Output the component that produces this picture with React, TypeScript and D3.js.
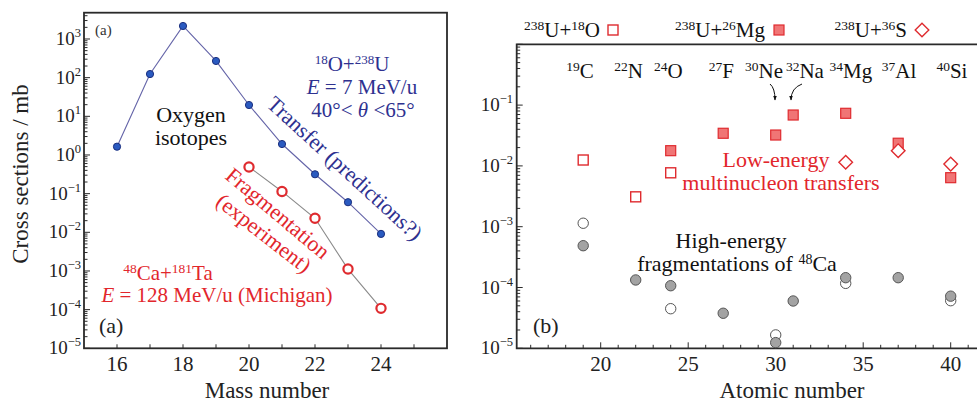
import React from 'react';
import * as d3 from 'd3';

// (a) oxygen isotopes: transfer predictions, 18O+238U at 7 MeV/u
const massNumbers = [16, 17, 18, 19, 20, 21, 22, 23, 24];
const transferPredicted = [1.64, 124, 2170, 270, 19.6, 1.92, 0.317, 0.06, 0.0091];

// (a) fragmentation measurement, 48Ca+181Ta at 128 MeV/u
const fragMassNumbers = [20, 21, 22, 23, 24];
const fragMeasured = [0.49, 0.114, 0.023, 0.00112, 0.000108];

// (b) low-energy multinucleon transfers
const uOxygenZ = [19, 22, 24];
const uOxygenSigma = [0.0125, 0.0031, 0.0077];
const uMagnesiumZ = [24, 27, 30, 31, 34, 37, 40];
const uMagnesiumSigma = [0.0178, 0.0344, 0.0322, 0.0687, 0.0733, 0.0236, 0.0064];
const uSulfurZ = [34, 37, 40];
const uSulfurSigma = [0.01146, 0.0178, 0.0107];

// (b) high-energy fragmentations of 48Ca
const fragFilledZ = [19, 22, 24, 27, 30, 31, 34, 37, 40];
const fragFilledSigma = [4.87e-4, 1.33e-4, 1.07e-4, 3.77e-5, 1.24e-5, 6.0e-5, 1.45e-4, 1.45e-4, 7.2e-5];
const fragOpenZ = [19, 24, 30, 34, 40];
const fragOpenSigma = [1.14e-3, 4.48e-5, 1.66e-5, 1.17e-4, 6.07e-5];

// tick labels
const leftXTicks = [16, 18, 20, 22, 24];
const leftYExponents = [3, 2, 1, 0, -1, -2, -3, -4, -5];
const rightXTicks = [20, 25, 30, 35, 40];
const rightYExponents = [-1, -2, -3, -4, -5];

// isotope names across the top of panel (b)
const isotopeMass = ['19', '22', '24', '27', '30', '32', '34', '37', '40'];
const isotopeElement = ['C', 'N', 'O', 'F', 'Ne', 'Na', 'Mg', 'Al', 'Si'];
const isotopeLabelZ = [18.82, 21.59, 23.87, 26.9, 29.33, 31.67, 34.3, 37.05, 40.07];

const FONT = 'Liberation Serif, serif';
const RED = '#e2262c';
const RED_MARK = '#df2b2f';
const RED_FILL = '#f07575';
const BLUE_TEXT = '#2e3190';
const AXIS = '#2a2a2a';

const xL = d3.scaleLinear().domain([15, 26]).range([84, 447]);
const yL = d3.scaleLog().domain([1e-5, Math.pow(10, 3.68)]).range([348.3, 12.7]);
const xR = d3.scaleLinear().domain([15.2, 42]).range([516.7, 985.7]);
const yR = d3.scaleLog().domain([1e-5, 1]).range([348.3, 44.3]);

function logTicks(scale: d3.ScaleLogarithmic<number, number>) {
  const [lo, hi] = scale.domain();
  const out: { v: number; major: boolean }[] = [];
  for (let k = Math.floor(Math.log10(lo)); k <= Math.ceil(Math.log10(hi)); k++) {
    for (let m = 1; m <= 9; m++) {
      const v = m * Math.pow(10, k);
      if (v >= lo * 0.999 && v <= hi * 1.001) out.push({ v, major: m === 1 });
    }
  }
  return out;
}

// every label goes through here so the serif face is set on the element itself
function T(props: any) {
  const { children, ...rest } = props;
  return (
    <text {...rest} style={{ fontFamily: FONT }}>
      {children}
    </text>
  );
}

function Pow10({ x, y, e }: { x: number; y: number; e: number }) {
  const exp = e < 0 ? '\u2212' + Math.abs(e) : String(e);
  return (
    <T x={x} y={y} textAnchor="end" fontSize={19} fill="#222">
      <tspan>10</tspan>
      <tspan fontSize={12.5} dy={-8}>{exp}</tspan>
    </T>
  );
}

export default function App() {
  const lineL = d3
    .line<number>()
    .x((_, i) => xL(massNumbers[i]))
    .y((d) => yL(d));
  const lineFrag = d3
    .line<number>()
    .x((_, i) => xL(fragMassNumbers[i]))
    .y((d) => yL(d));

  const yTicksL = logTicks(yL);
  const yTicksR = logTicks(yR);
  const xMinorL = d3.range(16, 26);
  const xMinorR = d3.range(16, 43);

  const sq = 10;
  const diamond = (cx: number, cy: number, r: number) =>
    `M${cx},${cy - r}L${cx + r},${cy}L${cx},${cy + r}L${cx - r},${cy}Z`;

  return (
    <svg width={977} height={403} style={{ position: 'absolute', left: 0, top: 0 }}>
      <defs>
        <marker id="arrowHead" viewBox="0 0 10 10" refX="9" refY="5" markerWidth="5" markerHeight="5" orient="auto">
          <path d="M0,1L10,5L0,9Z" fill="#111" />
        </marker>
      </defs>
      <rect x={0} y={0} width={977} height={403} fill="#fff" />

      {/* ---------- panel (a) ---------- */}
      {yTicksL.map((t, i) => (
        <line key={'ly' + i} x1={xL(15)} x2={xL(15) + (t.major ? 6 : 3.5)} y1={yL(t.v)} y2={yL(t.v)} stroke={AXIS} strokeWidth={1} />
      ))}
      {xMinorL.map((v) => (
        <line key={'lx' + v} x1={xL(v)} x2={xL(v)} y1={yL.range()[0]} y2={yL.range()[0] - 4} stroke={AXIS} strokeWidth={1} />
      ))}
      <rect x={xL(15)} y={yL.range()[1]} width={xL(26) - xL(15)} height={yL.range()[0] - yL.range()[1]} fill="none" stroke={AXIS} strokeWidth={1.8} />
      {leftYExponents.map((e) => (
        <Pow10 key={'lye' + e} x={81} y={yL(Math.pow(10, e)) + 6} e={e} />
      ))}
      {leftXTicks.map((v) => (
        <T key={'lxt' + v} x={xL(v)} y={371} textAnchor="middle" fontSize={21} fill="#222">{v}</T>
      ))}
      <T x={267} y={398} textAnchor="middle" fontSize={23} fill="#222">Mass number</T>
      <T transform="translate(28,174) rotate(-90)" textAnchor="middle" fontSize={23} fill="#222">Cross sections / mb</T>

      <path d={lineL(transferPredicted) || ''} fill="none" stroke="#6464a8" strokeWidth={1.1} />
      <path d={lineFrag(fragMeasured) || ''} fill="none" stroke="#8a8a8a" strokeWidth={1.1} />
      {transferPredicted.map((d, i) => (
        <circle key={'tp' + i} cx={xL(massNumbers[i])} cy={yL(d)} r={3.6} fill="#2a5ac0" stroke="#1b2f7e" strokeWidth={1} />
      ))}
      {fragMeasured.map((d, i) => (
        <circle key={'fm' + i} cx={xL(fragMassNumbers[i])} cy={yL(d)} r={4.6} fill="#fff" stroke={RED_MARK} strokeWidth={2.2} />
      ))}

      <T x={95} y={35} fontSize={15} fill="#333">(a)</T>
      <T x={99} y={333} fontSize={22} fill="#222">(a)</T>

      <T x={191} y={122} textAnchor="middle" fontSize={22} fill="#111">Oxygen</T>
      <T x={191} y={145} textAnchor="middle" fontSize={22} fill="#111">isotopes</T>

      <T x={352} y={71} textAnchor="middle" fontSize={21} fill={BLUE_TEXT}>
        <tspan fontSize={13} dy={-7}>18</tspan>
        <tspan dy={7}>O+</tspan>
        <tspan fontSize={13} dy={-7}>238</tspan>
        <tspan dy={7}>U</tspan>
      </T>
      <T x={362} y={94} textAnchor="middle" fontSize={21} fill={BLUE_TEXT}>
        <tspan fontStyle="italic">E</tspan> = 7 MeV/u
      </T>
      <T x={363} y={117} textAnchor="middle" fontSize={21} fill={BLUE_TEXT}>
        40°&lt; <tspan fontStyle="italic">θ</tspan> &lt;65°
      </T>
      <T transform="translate(345,168) rotate(42.5)" textAnchor="middle" dy="0.35em" fontSize={22} fill={BLUE_TEXT}>
        Transfer (predictions?)
      </T>

      <T transform="translate(278,213) rotate(40)" textAnchor="middle" dy="0.35em" fontSize={22} fill={RED}>
        Fragmentation
      </T>
      <T transform="translate(264,233) rotate(38)" textAnchor="middle" dy="0.35em" fontSize={22} fill={RED}>
        (experiment)
      </T>

      <T x={168} y={280} textAnchor="middle" fontSize={21} fill={RED}>
        <tspan fontSize={13.5} dy={-7}>48</tspan>
        <tspan dy={7}>Ca+</tspan>
        <tspan fontSize={13.5} dy={-7}>181</tspan>
        <tspan dy={7}>Ta</tspan>
      </T>
      <T x={217} y={302} textAnchor="middle" fontSize={21} fill={RED}>
        <tspan fontStyle="italic">E</tspan> = 128 MeV/u (Michigan)
      </T>

      {/* ---------- panel (b) ---------- */}
      {yTicksR.map((t, i) => (
        <line key={'ry' + i} x1={xR(15.2)} x2={xR(15.2) + (t.major ? 6 : 3.5)} y1={yR(t.v)} y2={yR(t.v)} stroke={AXIS} strokeWidth={1} />
      ))}
      {xMinorR.map((v) => (
        <line key={'rx' + v} x1={xR(v)} x2={xR(v)} y1={yR.range()[0]} y2={yR.range()[0] - (v % 5 === 0 ? 6 : 3.5)} stroke={AXIS} strokeWidth={1} />
      ))}
      <path
        d={`M${xR(42)},${yR.range()[1]}H${xR(15.2)}V${yR.range()[0]}H${xR(42)}`}
        fill="none"
        stroke={AXIS}
        strokeWidth={1.8}
      />
      {rightYExponents.map((e) => (
        <Pow10 key={'rye' + e} x={513} y={yR(Math.pow(10, e)) + 6} e={e} />
      ))}
      {rightXTicks.map((v) => (
        <T key={'rxt' + v} x={xR(v)} y={371} textAnchor="middle" fontSize={21} fill="#222">{v}</T>
      ))}
      <T x={792} y={398} textAnchor="middle" fontSize={23} fill="#222">Atomic number</T>

      {/* legend */}
      <T x={600} y={37} textAnchor="end" fontSize={21} fill="#111">
        <tspan fontSize={13.5} dy={-7}>238</tspan>
        <tspan dy={7}>U+</tspan>
        <tspan fontSize={13.5} dy={-7}>18</tspan>
        <tspan dy={7}>O</tspan>
      </T>
      <rect x={613 - sq / 2} y={30 - sq / 2} width={sq} height={sq} fill="#fff" stroke={RED_MARK} strokeWidth={1.4} />
      <T x={765} y={37} textAnchor="end" fontSize={21} fill="#111">
        <tspan fontSize={13.5} dy={-7}>238</tspan>
        <tspan dy={7}>U+</tspan>
        <tspan fontSize={13.5} dy={-7}>26</tspan>
        <tspan dy={7}>Mg</tspan>
      </T>
      <rect x={779 - sq / 2} y={30 - sq / 2} width={sq} height={sq} fill={RED_FILL} stroke={RED_MARK} strokeWidth={1.2} />
      <T x={907} y={37} textAnchor="end" fontSize={21} fill="#111">
        <tspan fontSize={13.5} dy={-7}>238</tspan>
        <tspan dy={7}>U+</tspan>
        <tspan fontSize={13.5} dy={-7}>36</tspan>
        <tspan dy={7}>S</tspan>
      </T>
      <path d={diamond(922, 30, 6.8)} fill="#fff" stroke={RED_MARK} strokeWidth={1.4} />

      {/* isotope names */}
      {isotopeElement.map((el, i) => (
        <T key={'iso' + el} x={xR(isotopeLabelZ[i])} y={78} textAnchor="middle" fontSize={21} fill="#111">
          <tspan fontSize={13.5} dy={-7}>{isotopeMass[i]}</tspan>
          <tspan dy={7}>{el}</tspan>
        </T>
      ))}
      <path d="M770,84 Q775,88 775,100" fill="none" stroke="#111" strokeWidth={1} markerEnd="url(#arrowHead)" />
      <path d="M802,84 Q791,88 791,100" fill="none" stroke="#111" strokeWidth={1} markerEnd="url(#arrowHead)" />

      {/* fragmentation points: open first, filled on top */}
      {fragOpenSigma.map((d, i) => (
        <circle key={'o' + i} cx={xR(fragOpenZ[i])} cy={yR(d)} r={5.2} fill="#fff" stroke="#555" strokeWidth={1} />
      ))}
      {fragFilledSigma.map((d, i) => (
        <circle key={'f' + i} cx={xR(fragFilledZ[i])} cy={yR(d)} r={5.2} fill="#a3a3a3" stroke="#555" strokeWidth={1} />
      ))}

      {/* transfer points */}
      {uOxygenSigma.map((d, i) => (
        <rect key={'uo' + i} x={xR(uOxygenZ[i]) - sq / 2} y={yR(d) - sq / 2} width={sq} height={sq} fill="#fff" stroke={RED_MARK} strokeWidth={1.4} />
      ))}
      {uMagnesiumSigma.map((d, i) => (
        <rect key={'um' + i} x={xR(uMagnesiumZ[i]) - sq / 2} y={yR(d) - sq / 2} width={sq} height={sq} fill={RED_FILL} stroke={RED_MARK} strokeWidth={1.2} />
      ))}
      {uSulfurSigma.map((d, i) => (
        <path key={'us' + i} d={diamond(xR(uSulfurZ[i]), yR(d), 6.8)} fill="#fff" stroke={RED_MARK} strokeWidth={1.4} />
      ))}

      <T x={776} y={167} textAnchor="middle" fontSize={22} fill={RED}>Low-energy</T>
      <T x={781} y={190} textAnchor="middle" fontSize={22} fill={RED}>multinucleon transfers</T>
      <T x={731} y={248} textAnchor="middle" fontSize={22} fill="#111">High-energy</T>
      <T x={737} y={271} textAnchor="middle" fontSize={22} fill="#111">
        fragmentations of <tspan fontSize={14} dy={-7}>48</tspan>
        <tspan dy={7}>Ca</tspan>
      </T>
      <T x={533} y={333} fontSize={22} fill="#222">(b)</T>
    </svg>
  );
}
